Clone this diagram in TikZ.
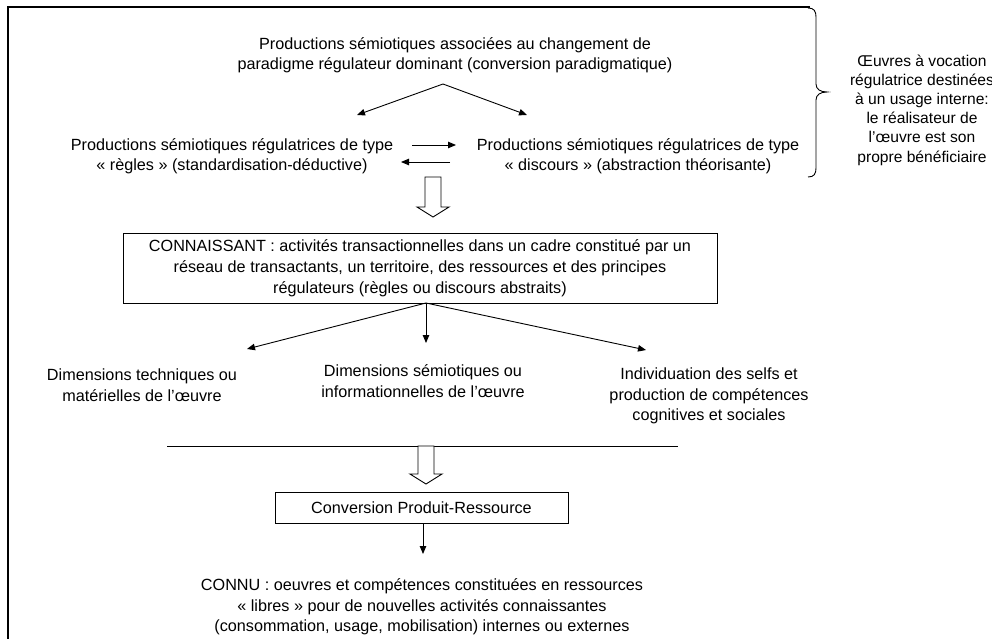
\documentclass[tikz,border=0pt]{standalone}
\usepackage{fontspec}
\setmainfont{Liberation Sans}
\usetikzlibrary{arrows.meta}
\tikzset{
  txt/.style={inner sep=0pt, align=center, font=\fontsize{16.2}{20.5}\selectfont},
  sidetxt/.style={inner sep=0pt, align=center, font=\fontsize{15.6}{19.2}\selectfont},
  boxed/.style={draw, line width=0.9pt, inner sep=0pt, align=center, font=\fontsize{16.2}{20.8}\selectfont},
  conn/.style={line width=0.9pt, -{Triangle[length=8pt,width=6.5pt]}},
  hollow/.style={line width=0.9pt, fill=white},
  frame/.style={line width=2.4pt}
}
\begin{document}
\begin{tikzpicture}[x=1pt,y=-1pt]
\useasboundingbox (0,0) rectangle (992,639);
% frame
\draw[frame] (8,639) -- (8,7) -- (810,7);
% brace
\draw[line width=0.9pt] (808,8) .. controls (814,8) and (816,11) .. (816,17) -- (816,84)
  .. controls (816,89) and (820,92) .. (827,92)
  .. controls (820,92) and (816,95) .. (816,100) -- (816,168)
  .. controls (816,174) and (814,177) .. (808,177);
% texts
\node[txt] (top) at (455,55) {Productions sémiotiques associées au changement de\\paradigme régulateur dominant (conversion paradigmatique)};
\node[txt] (rules) at (232,156) {Productions sémiotiques régulatrices de type\\« règles » (standardisation-déductive)};
\node[txt] (disc) at (638,156) {Productions sémiotiques régulatrices de type\\« discours » (abstraction théorisante)};
\node[sidetxt] (side) at (922,110) {Œuvres à vocation\\régulatrice destinées\\à un usage interne:\\le réalisateur de\\l’œuvre est son\\propre bénéficiaire};
\node[boxed, minimum width=594pt, minimum height=70pt] (conn) at (420,268) {CONNAISSANT : activités transactionnelles dans un cadre constitué par un\\réseau de transactants, un territoire, des ressources et des principes\\régulateurs (règles ou discours abstraits)};
\node[txt] (tech) at (142,385) {Dimensions techniques ou\\matérielles de l’œuvre};
\node[txt] (semio) at (423,381) {Dimensions sémiotiques ou\\informationnelles de l’œuvre};
\node[txt] (indiv) at (709,396) {Individuation des selfs et\\production de compétences\\cognitives et sociales};
\node[boxed, minimum width=293pt, minimum height=31pt] (convr) at (421.5,507.5) {Conversion Produit-Ressource};
\node[txt] (connu) at (422,607) {CONNU : oeuvres et compétences constituées en ressources\\« libres » pour de nouvelles activités connaissantes\\(consommation, usage, mobilisation) internes ou externes};
% coordinates
\coordinate (apex) at (443,84);
\coordinate (ltip) at (357,115);
\coordinate (rtip) at (527,115);
\coordinate (a1s) at (412,145);
\coordinate (a1e) at (456,145);
\coordinate (a2s) at (450,162);
\coordinate (a2e) at (401,162);
\coordinate (corig) at (426,303);
\coordinate (t1) at (247,349);
\coordinate (t2) at (426,343);
\coordinate (t3) at (646,350);
\coordinate (h1) at (433,177);
\coordinate (h2) at (426,446);
\coordinate (ls) at (167,446);
\coordinate (le) at (678,446);
\coordinate (dtip) at (423,554);
% connectors
\draw[conn] (apex) -- (ltip);
\draw[conn] (apex) -- (rtip);
\draw[conn] (a1s) -- (a1e);
\draw[conn] (a2s) -- (a2e);
\draw[conn] (corig) -- (t1);
\draw[conn] (corig) -- (t2);
\draw[conn] (corig) -- (t3);
\draw[line width=0.9pt] (ls) -- (le);
\draw[conn] (convr.south -| dtip) -- (dtip);
% hollow arrows
\draw[hollow] (h1) ++(-8,0) -- ++(0,30) -- ++(-8,0) -- ++(16,10) -- ++(16,-10) -- ++(-8,0) -- ++(0,-30) -- cycle;
\draw[hollow] (h2) ++(-8,0) -- ++(0,28) -- ++(-8,0) -- ++(16,10) -- ++(16,-10) -- ++(-8,0) -- ++(0,-28) -- cycle;
\end{tikzpicture}
\end{document}
